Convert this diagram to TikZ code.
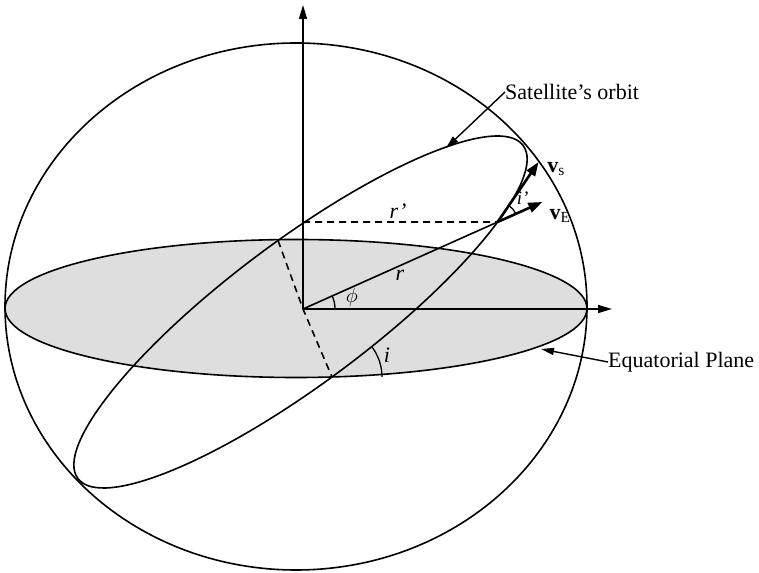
\documentclass[tikz,border=0pt]{standalone}
\usepackage{fontspec}
\setmainfont{Liberation Serif}
\usetikzlibrary{arrows.meta,intersections,calc}
\begin{document}
\begin{tikzpicture}[x=1pt,y=1pt,
  line/.style={line width=1.6pt},
  dashline/.style={line width=1.6pt, dash pattern=on 7pt off 5pt},
  axis/.style={line width=1.4pt,-{Triangle[length=14pt,width=8pt]}},
  leader/.style={line width=1.4pt,-{Triangle[length=13pt,width=7pt]}},
  vec/.style={line width=2.6pt,-{Triangle[length=14pt,width=10pt]}},
  lbl/.style={font=\fontsize{22}{26}\selectfont, inner sep=0pt},
  ang/.style={line width=1.3pt}]
\useasboundingbox (0,0) rectangle (759,572);
% equatorial plane
\fill[black!13] (296,263.5) ellipse [x radius=291, y radius=69];
% sphere
\draw[line] (296,265.5) ellipse [x radius=291, y radius=263.5];
\draw[line] (296,263.5) ellipse [x radius=291, y radius=69];
% orbit
\draw[line, name path=orbit, rotate around={36.8:(300.5,260)}] (300.5,260) ellipse [x radius=278, y radius=71];
% key points
\coordinate (O) at (303,263);
\coordinate (Ztop) at (303,567);
\coordinate (Xend) at (612,263);
\coordinate (P) at (303,350);
\path[name path=rline] (420,350) -- (640,350);
\path[name intersections={of=orbit and rline}] coordinate (S) at (intersection-1);
\path[name path=bline] (240,331.5) -- (300,331.5);
\path[name intersections={of=orbit and bline}] coordinate (B) at (intersection-1);
\path[name path=kline] (310,195) -- (380,195);
\path[name intersections={of=orbit and kline}] coordinate (K) at (intersection-1);
\coordinate (VE) at ($(O)!1.23!(S)$);
\coordinate (VS) at ($(S)+(41,60)$);
% axes
\draw[axis] (O) -- (Ztop);
\draw[axis] (O) -- (Xend);
% radius and projections
\draw[dashline] (P) -- (S);
\draw[line] (O) -- (S);
\draw[dashline] (B) -- (O) -- (K);
% velocity vectors
\draw[vec] (S) -- (VE);
\draw[vec] (S) -- (VS);
% angle arcs
\draw[ang] ($(O)+(32,0)$) arc[start angle=0, end angle=23.8, radius=32];
\draw[ang] ($(K)+(50,0)$) arc[start angle=0, end angle=36.4, radius=50];
\draw[ang] ($(S)+(23.8:20)$) arc[start angle=23.8, end angle=55.5, radius=20];
% labels
\node[lbl] (rp) at (398,361) {\textit{r’}};
\node[lbl] (rl) at (400,297) {\textit{r}};
\node[lbl] (ph) at (352,275) {$\phi$};
\node[lbl] (il) at (387,217) {\textit{i}};
\node[lbl, font=\fontsize{19}{22}\selectfont] (ip) at ($(S)+(25,24)$) {\textit{i’}};
\node[lbl] (vs) at (556,403) {\textbf{v}\textsubscript{s}};
\node[lbl] (ve) at (560,356) {\textbf{v}\textsubscript{E}};
\node[lbl, anchor=west] (sat) at (505,480) {Satellite’s orbit};
\node[lbl, anchor=west] (eq) at (608,210) {Equatorial Plane};
\coordinate (satTip) at (446,424);
\coordinate (eqTip) at (541,223);
\draw[leader] (sat.west) -- (satTip);
\draw[leader] (eq.west) -- (eqTip);
\end{tikzpicture}
\end{document}
